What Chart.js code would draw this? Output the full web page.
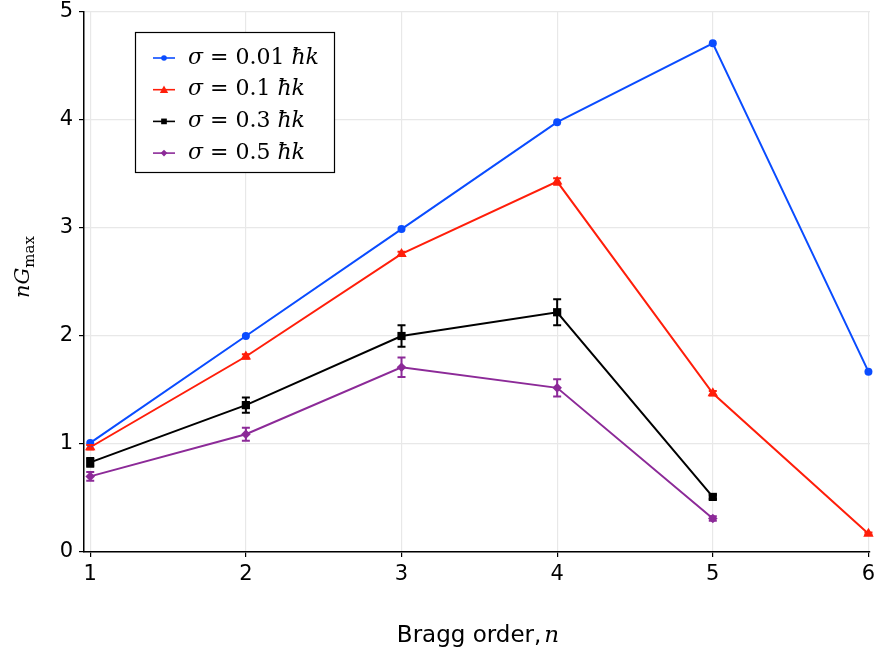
<!DOCTYPE html>
<html>
<head>
<meta charset="utf-8">
<script src="https://cdn.jsdelivr.net/npm/chart.js@4/dist/chart.umd.min.js"></script>
<style>
  html, body { margin: 0; padding: 0; background: #fff; }
  #wrap { width: 877px; height: 654px; }
</style>
</head>
<body>
<div id="wrap"><canvas id="chart" width="877" height="654"></canvas></div>
<script>
// Bragg orders
const orders = [1, 2, 3, 4, 5, 6];
const xTicks = [1, 2, 3, 4, 5, 6];
const yTicks = [0, 1, 2, 3, 4, 5];

// nG_max for each sigma
const sig001 = [1.01, 2.00, 2.99, 3.98, 4.71, 1.67];
const sig01 = [0.97, 1.81, 2.76, 3.43, 1.47, 0.17];
const sig03 = [0.83, 1.36, 2.00, 2.22, 0.51];
const sig05 = [0.70, 1.09, 1.71, 1.52, 0.31];

// error bars (+/-)
const err001 = [0, 0, 0, 0, 0, 0];
const err01 = [0.02, 0.02, 0.02, 0.03, 0.02, 0.01];
const err03 = [0.04, 0.07, 0.10, 0.12, 0.02];
const err05 = [0.04, 0.06, 0.09, 0.08, 0.02];

const legendLabels = ["0.01", "0.1", "0.3", "0.5"];

const colBlue = "#0a4cff";
const colRed = "#ff1e0a";
const colBlack = "#000000";
const colPurple = "#8c2a98";

function pts(vals) {
    return vals.map((v, i) => ({ x: orders[i], y: v }));
}

function makeSet(vals, errs, color, style, radius) {
    return {
        data: pts(vals),
        errs: errs,
        borderColor: color,
        backgroundColor: color,
        borderWidth: 2,
        pointStyle: style,
        pointRadius: radius,
        pointHoverRadius: radius,
        pointBorderWidth: 0,
        tension: 0,
        clip: false
    };
}

const datasets = [
    makeSet(sig001, err001, colBlue, "circle", 4),
    makeSet(sig01, err01, colRed, "triangle", 6),
    makeSet(sig03, err03, colBlack, "rect", 5.8),
    makeSet(sig05, err05, colPurple, "rectRot", 4.8)
];

// error bars drawn through the scales
const errorBars = {
    id: "errorBars",
    afterDatasetsDraw(chart) {
        const ctx = chart.ctx;
        const xs = chart.scales.x, ys = chart.scales.y;
        chart.data.datasets.forEach(ds => {
            ctx.save();
            ctx.strokeStyle = ds.borderColor;
            ctx.lineWidth = 2;
            ds.data.forEach((p, i) => {
                const e = ds.errs[i];
                if (!e) return;
                const px = xs.getPixelForValue(p.x);
                const top = ys.getPixelForValue(p.y + e);
                const bot = ys.getPixelForValue(p.y - e);
                ctx.beginPath();
                ctx.moveTo(px, top); ctx.lineTo(px, bot);
                ctx.moveTo(px - 4, top); ctx.lineTo(px + 4, top);
                ctx.moveTo(px - 4, bot); ctx.lineTo(px + 4, bot);
                ctx.stroke();
            });
            ctx.restore();
        });
    }
};

function drawMarker(ctx, style, x, y, r) {
    ctx.beginPath();
    if (style === "circle") {
        ctx.arc(x, y, r, 0, Math.PI * 2);
    } else if (style === "triangle") {
        ctx.moveTo(x, y - r);
        ctx.lineTo(x + r, y + r * 0.8);
        ctx.lineTo(x - r, y + r * 0.8);
        ctx.closePath();
    } else if (style === "rect") {
        ctx.rect(x - r * 0.7, y - r * 0.7, r * 1.4, r * 1.4);
    } else {
        ctx.moveTo(x, y - r); ctx.lineTo(x + r, y);
        ctx.lineTo(x, y + r); ctx.lineTo(x - r, y);
        ctx.closePath();
    }
    ctx.fill();
}

// legend box, axis titles
const decorations = {
    id: "decorations",
    afterDraw(chart) {
        const ctx = chart.ctx;
        ctx.save();

        // legend
        ctx.fillStyle = "#fff";
        ctx.fillRect(135, 32, 199, 140);
        ctx.strokeStyle = "#000";
        ctx.lineWidth = 1.2;
        ctx.strokeRect(135.5, 32.5, 199, 140);
        chart.data.datasets.forEach((ds, i) => {
            const y = 58 + i * 31.7;
            ctx.strokeStyle = ds.borderColor;
            ctx.lineWidth = 1.6;
            ctx.beginPath();
            ctx.moveTo(153, y); ctx.lineTo(175, y);
            ctx.stroke();
            ctx.fillStyle = ds.borderColor;
            drawMarker(ctx, ds.pointStyle, 164, y, ds.pointRadius * 0.7);

            ctx.fillStyle = "#000";
            ctx.textBaseline = "middle";
            ctx.textAlign = "left";
            let x = 188;
            ctx.font = "italic 22px 'DejaVu Serif'";
            ctx.fillText("σ", x, y);
            x += ctx.measureText("σ").width;
            ctx.font = "22px 'DejaVu Serif'";
            const mid = " = " + legendLabels[i] + " ";
            ctx.fillText(mid, x, y);
            x += ctx.measureText(mid).width;
            ctx.font = "italic 22px 'DejaVu Serif'";
            ctx.fillText("ħk", x, y);
        });

        // x title
        ctx.fillStyle = "#000";
        ctx.textBaseline = "alphabetic";
        ctx.textAlign = "left";
        const t1 = "Bragg order,";
        ctx.font = "italic 23px 'DejaVu Serif'";
        const wn = ctx.measureText("n").width;
        ctx.font = "23px 'DejaVu Sans'";
        const w1 = ctx.measureText(t1).width;
        let sx = 478 - (w1 + wn + 3) / 2;
        ctx.fillText(t1, sx, 642);
        ctx.font = "italic 23px 'DejaVu Serif'";
        ctx.fillText("n", sx + w1 + 3, 642);

        // y title
        ctx.translate(29, 267);
        ctx.rotate(-Math.PI / 2);
        ctx.font = "italic 21px 'DejaVu Serif'";
        const wa = ctx.measureText("nG").width;
        ctx.font = "15px 'DejaVu Serif'";
        const wb = ctx.measureText("max").width;
        const start = -(wa + wb) / 2;
        ctx.font = "italic 21px 'DejaVu Serif'";
        ctx.fillText("nG", start, 0);
        ctx.font = "15px 'DejaVu Serif'";
        ctx.fillText("max", start + wa, 5);
        ctx.restore();
    }
};

const ctx = document.getElementById("chart").getContext("2d");
new Chart(ctx, {
    type: "line",
    data: { datasets: datasets },
    options: {
        responsive: false,
        animation: false,
        layout: { padding: { left: 0, right: 7, top: 12, bottom: 0 } },
        plugins: {
            legend: { display: false },
            tooltip: { enabled: false }
        },
        scales: {
            x: {
                type: "linear",
                min: 0.96,
                max: 6.01,
                afterBuildTicks: s => { s.ticks = xTicks.map(v => ({ value: v })); },
                afterFit: s => { s.height = 102; s.paddingLeft = 0; s.paddingRight = 0; },
                border: { color: "#000", width: 1.5 },
                grid: { color: "#e8e8e8", lineWidth: 1.2, tickColor: "#000", tickLength: 5 },
                ticks: {
                    color: "#000",
                    font: { family: "DejaVu Sans", size: 21 },
                    padding: 5,
                    maxRotation: 0
                }
            },
            y: {
                min: 0,
                max: 5,
                afterBuildTicks: s => { s.ticks = yTicks.map(v => ({ value: v })); },
                afterFit: s => { s.width = 84; s.paddingTop = 0; s.paddingBottom = 0; },
                border: { color: "#000", width: 1.5 },
                grid: { color: "#e8e8e8", lineWidth: 1.2, tickColor: "#000", tickLength: 5 },
                ticks: {
                    color: "#000",
                    font: { family: "DejaVu Sans", size: 21 },
                    padding: 6
                }
            }
        }
    },
    plugins: [errorBars, decorations]
});
</script>
</body>
</html>
